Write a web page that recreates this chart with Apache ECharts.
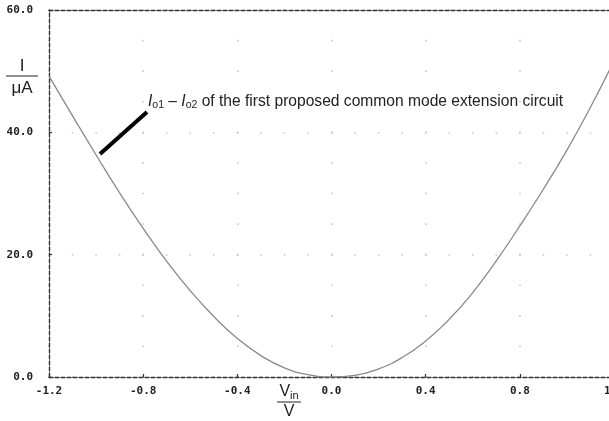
<!DOCTYPE html>
<html><head><meta charset="utf-8">
<script src="https://cdn.jsdelivr.net/npm/echarts@6/dist/echarts.min.js"></script>
<style>html,body{margin:0;padding:0;background:#fff}#c{width:609px;height:421px}</style>
</head><body><div id="c"></div>
<script>
// Data
const vin = [-1.2, -1.1, -1.0, -0.9, -0.8, -0.7, -0.6, -0.5, -0.4, -0.3, -0.2, -0.1, 0.0, 0.1, 0.2, 0.3, 0.4, 0.5, 0.6, 0.7, 0.8, 0.9, 1.0, 1.1, 1.2];
const current = [49.2, 42.7, 36.3, 30.1, 24.3, 18.9, 14.1, 9.9, 6.3, 3.5, 1.5, 0.38, 0.03, 0.28, 1.33, 3.18, 5.88, 9.43, 13.8, 19.0, 24.7, 30.7, 37.1, 44.1, 51.7];
const xRange = [-1.2, 1.2];
const yRange = [0, 60];
const xStep = 0.4;
const yStep = 20;
const annotation = 'of the first proposed common mode extension circuit';

const chart = echarts.init(document.getElementById('c'), null, {renderer: 'canvas'});
const G = {left: 49, top: 10, width: 565, height: 367};
const axisDash = {color: '#333', width: 1.4, type: [4, 2]};
const tickFont = {fontFamily: 'DejaVu Sans Mono', fontWeight: 'bold', fontSize: 11, color: '#222'};
const vPeriod = G.height / 12, hPeriod = G.width / 24;

chart.setOption({
  animation: false,
  backgroundColor: '#fff',
  grid: {left: G.left, top: G.top, width: G.width, height: G.height, containLabel: false, outerBoundsMode: 'none'},
  xAxis: [{
    type: 'value', min: xRange[0], max: xRange[1], interval: xStep, position: 'bottom',
    axisLine: {show: true, onZero: false, lineStyle: axisDash},
    axisTick: {show: true, inside: true, length: 3, lineStyle: {color: '#333', width: 1.2}},
    axisLabel: Object.assign({margin: 9, showMinLabel: true, showMaxLabel: true, formatter: v => v.toFixed(1)}, tickFont),
    splitLine: {show: true, lineStyle: {color: '#c8c8c8', width: 1.6, type: [1.6, vPeriod - 1.6], dashOffset: 0.8}}
  }, {
    type: 'value', min: xRange[0], max: xRange[1], interval: xStep, position: 'top',
    axisLine: {show: true, onZero: false, lineStyle: axisDash},
    axisTick: {show: false}, axisLabel: {show: false}, splitLine: {show: false}
  }],
  yAxis: {
    type: 'value', min: yRange[0], max: yRange[1], interval: yStep,
    axisLine: {show: true, onZero: false, lineStyle: axisDash},
    axisTick: {show: true, inside: true, length: 3, lineStyle: {color: '#333', width: 1.2}},
    axisLabel: Object.assign({margin: 16, formatter: v => v.toFixed(1)}, tickFont),
    splitLine: {show: true, lineStyle: {color: '#c8c8c8', width: 1.6, type: [1.6, hPeriod - 1.6], dashOffset: 0.8}}
  },
  series: [{
    type: 'line', xAxisIndex: 0,
    data: vin.map((v, i) => [v, current[i]]),
    showSymbol: false, smooth: 0.5, clip: true,
    lineStyle: {color: '#8a8a8a', width: 1.3}
  }],
  graphic: [
    {type: 'line', shape: {x1: 100, y1: 154, x2: 147, y2: 112}, style: {stroke: '#000', lineWidth: 4}, z: 100},
    {type: 'text', x: 148, y: 92, z: 100, style: {
      text: '{i|I}{s|o1}{n| – }{i|I}{s|o2}{n| ' + annotation + '}',
      rich: {
        i: {fontFamily: 'Liberation Sans', fontStyle: 'italic', fontSize: 15.6, lineHeight: 19, fill: '#222'},
        n: {fontFamily: 'Liberation Sans', fontSize: 15.6, lineHeight: 19, fill: '#222'},
        s: {fontFamily: 'Liberation Sans', fontSize: 10.5, lineHeight: 10, verticalAlign: 'bottom', fill: '#222'}
      }
    }},
    {type: 'text', x: 22, y: 66, style: {text: 'I', fontFamily: 'Liberation Sans', fontSize: 17, fill: '#222', align: 'center', verticalAlign: 'middle'}},
    {type: 'line', shape: {x1: 6, y1: 76, x2: 38, y2: 76}, style: {stroke: '#222', lineWidth: 1}},
    {type: 'text', x: 22, y: 88, style: {text: 'μA', fontFamily: 'Liberation Sans', fontSize: 17, fill: '#222', align: 'center', verticalAlign: 'middle'}},
    {type: 'text', x: 289, y: 392, style: {
      text: '{v|V}{s|in}', align: 'center', verticalAlign: 'middle',
      rich: {
        v: {fontFamily: 'Liberation Sans', fontSize: 16, lineHeight: 18, fill: '#222'},
        s: {fontFamily: 'Liberation Sans', fontSize: 11, lineHeight: 11, verticalAlign: 'bottom', fill: '#222'}
      }
    }},
    {type: 'line', shape: {x1: 277, y1: 402, x2: 301, y2: 402}, style: {stroke: '#222', lineWidth: 1}},
    {type: 'text', x: 289, y: 412, style: {text: 'V', fontFamily: 'Liberation Sans', fontSize: 16, fill: '#222', align: 'center', verticalAlign: 'middle'}}
  ]
});
</script>
</body></html>
